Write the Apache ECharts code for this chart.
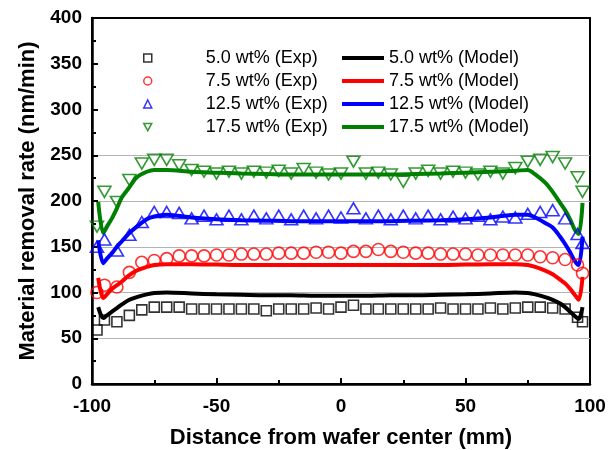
<!DOCTYPE html>
<html>
<head>
<meta charset="utf-8">
<script src="https://cdn.jsdelivr.net/npm/echarts@6/dist/echarts.min.js"></script>
<style>
  html, body { margin: 0; padding: 0; background: #fff; }
  #main { width: 615px; height: 450px; }
</style>
</head>
<body>
<div id="main"></div>
<script>
  // measured points (Exp), shared x positions in mm
  var expX = [-98, -95, -90, -85, -80, -75, -70, -65, -60, -55, -50, -45, -40, -35, -30, -25, -20, -15, -10, -5,
    0, 5, 10, 15, 20, 25, 30, 35, 40, 45, 50, 55, 60, 65, 70, 75, 80, 85, 90, 95, 97]
  var exp50 = [59, 70, 68, 75, 81, 84, 84, 84, 82, 82, 82, 82, 82, 82, 80, 82, 82, 82, 83, 82,
    84, 86, 82, 82, 82, 82, 82, 82, 83, 82, 82, 82, 83, 82, 83, 84, 84, 83, 82, 73, 68]
  var exp75 = [100, 108, 106, 122, 133, 135, 137, 140, 140, 140, 141, 141, 142, 142, 142, 143, 143, 143, 144, 144,
    143, 145, 145, 147, 145, 144, 143, 143, 142, 142, 142, 141, 141, 141, 141, 141, 139, 138, 136, 130, 121]
  var exp125 = [150, 158, 146, 163, 177, 188, 188, 187, 181, 184, 180, 184, 180, 184, 181, 184, 180, 184, 181, 184,
    182, 192, 181, 184, 180, 184, 181, 184, 180, 183, 181, 184, 180, 183, 182, 186, 188, 190, 181, 164, 154]
  var exp175 = [172, 210, 199, 223, 241, 245, 245, 239, 234, 232, 230, 232, 230, 232, 231, 233, 230, 235, 231, 229,
    230, 243, 230, 231, 229, 221, 230, 233, 230, 232, 231, 229, 232, 230, 236, 243, 245, 248, 241, 226, 210]

  // model curves
  var modelX = [-97.5, -95.5, -94, -92, -90, -88, -85, -82, -78, -75, -70, -60, -50, -40, -30, -20, -10,
    0, 10, 20, 30, 40, 50, 60, 70, 75, 78, 82, 85, 88, 90, 92, 94, 95.5, 97]
  var model50 = [84, 72, 75, 79, 83, 87, 92, 95, 98, 99.5, 100, 99, 98, 97.5, 97, 97, 96.5,
    96.5, 96.5, 97, 97, 97.5, 98, 99, 100, 99.5, 98, 95, 92, 88, 84, 79, 74, 71, 84]
  var model75 = [116, 94, 98, 104, 108, 112, 119, 124, 128, 130, 131, 131, 130.5, 130, 130, 130, 130,
    130, 130, 130, 130, 130, 130.5, 131, 131, 130, 128, 124, 120, 114, 110, 104, 97, 92, 117]
  var model125 = [157, 132, 137, 143, 150, 156, 165, 172, 180, 183, 185, 182, 180, 179, 178.5, 178, 178,
    178, 178, 178, 178.5, 179, 180, 182, 185, 185, 182, 176, 171, 161, 153, 144, 134, 130, 161]
  var model175 = [199, 165, 172, 181, 192, 204, 215, 226, 232, 234, 234, 232, 231, 230, 229.5, 229, 229,
    229, 229, 229, 229.5, 230, 231, 232, 233, 234, 229, 220, 210, 198, 190, 180, 168, 164, 198]

  var expNames = ['5.0 wt% (Exp)', '7.5 wt% (Exp)', '12.5 wt% (Exp)', '17.5 wt% (Exp)']
  var modelNames = ['5.0 wt% (Model)', '7.5 wt% (Model)', '12.5 wt% (Model)', '17.5 wt% (Model)']
  var colors = ['#000000', '#ff0000', '#0000ff', '#008000']

  function pairs (xs, ys) {
    return xs.map(function (x, i) { return [x, ys[i]] })
  }

  function expSeries (name, ys, color, symbol, size, rotate) {
    return {
      name: name,
      type: 'scatter',
      data: pairs(expX, ys),
      symbol: symbol,
      symbolSize: size,
      symbolRotate: rotate || 0,
      z: 3,
      itemStyle: { color: 'rgba(255,255,255,0)', borderColor: color, borderWidth: 1.6 }
    }
  }

  function modelSeries (name, ys, color) {
    return {
      name: name,
      type: 'line',
      data: pairs(modelX, ys),
      showSymbol: false,
      symbol: 'none',
      smooth: 0.3,
      z: 2,
      itemStyle: { color: color },
      lineStyle: { color: color, width: 4 }
    }
  }

  var myChart = echarts.init(document.getElementById('main'))
  var font = 'Liberation Sans, Arial, sans-serif'

  var option = {
    backgroundColor: '#fff',
    animation: false,
    textStyle: { fontFamily: font },
    grid: {
      left: 92, right: 25, top: 18, bottom: 66,
      outerBoundsMode: 'none',
      show: true, borderColor: '#000', borderWidth: 2
    },
    legend: [
      {
        data: [
          { name: expNames[0], icon: 'rect' },
          { name: expNames[1], icon: 'circle' },
          { name: expNames[2], icon: 'triangle' },
          { name: expNames[3], icon: 'path://M0,0 L10,0 L5,9 Z' }
        ],
        orient: 'vertical',
        left: 143, top: 49,
        padding: 0,
        itemWidth: 8, itemHeight: 8,
        itemGap: 5,
        itemStyle: { borderWidth: 1.5 },
        textStyle: { fontSize: 18, fontFamily: font, color: '#000', lineHeight: 18, padding: [0, 0, 0, 49] }
      },
      {
        data: modelNames.map(function (n) { return { name: n, icon: 'rect' } }),
        orient: 'vertical',
        left: 342, top: 49,
        padding: 0,
        itemWidth: 42, itemHeight: 4,
        itemGap: 5,
        textStyle: { fontSize: 18, fontFamily: font, color: '#000', lineHeight: 18 }
      }
    ],
    xAxis: {
      type: 'value',
      min: -100, max: 100, interval: 50,
      name: 'Distance from wafer center (mm)',
      nameLocation: 'middle',
      nameGap: 43,
      nameTextStyle: { fontSize: 22, fontWeight: 'bold', color: '#000', fontFamily: font },
      axisLine: { show: true, onZero: false, lineStyle: { color: '#000', width: 2.5 } },
      axisTick: { show: true, inside: true, length: 6, lineStyle: { width: 2 } },
      minorTick: { show: true, splitNumber: 2, length: 4, lineStyle: { color: '#000', width: 2 } },
      axisLabel: { fontSize: 19, fontWeight: 'bold', color: '#000', margin: 13, fontFamily: font },
      splitLine: { show: false }
    },
    yAxis: {
      type: 'value',
      min: 0, max: 400, interval: 50,
      name: 'Material removal rate (nm/min)',
      nameLocation: 'middle',
      nameGap: 53,
      nameTextStyle: { fontSize: 22, fontWeight: 'bold', color: '#000', fontFamily: font },
      axisLine: { show: true, onZero: false, lineStyle: { color: '#000', width: 2.5 } },
      axisTick: { show: true, inside: true, length: 6, lineStyle: { width: 2 } },
      minorTick: { show: true, splitNumber: 2, length: 4, lineStyle: { color: '#000', width: 2 } },
      axisLabel: { fontSize: 19, fontWeight: 'bold', color: '#000', margin: 10, fontFamily: font },
      splitLine: {
        show: true,
        lineStyle: {
          width: 1,
          // grey lines only up to 250, none behind the legend
          color: ['#b4b4b4', '#b4b4b4', '#b4b4b4', '#b4b4b4', '#b4b4b4', '#b4b4b4',
            'rgba(0,0,0,0)', 'rgba(0,0,0,0)', 'rgba(0,0,0,0)']
        }
      }
    },
    series: [
      modelSeries(modelNames[0], model50, colors[0]),
      modelSeries(modelNames[1], model75, colors[1]),
      modelSeries(modelNames[2], model125, colors[2]),
      modelSeries(modelNames[3], model175, colors[3]),
      expSeries(expNames[0], exp50, colors[0], 'rect', 10),
      expSeries(expNames[1], exp75, colors[1], 'circle', 12),
      expSeries(expNames[2], exp125, colors[2], 'triangle', [13, 11]),
      expSeries(expNames[3], exp175, colors[3], 'triangle', [13, 11], 180)
    ]
  }

  myChart.setOption(option)
</script>
</body>
</html>
